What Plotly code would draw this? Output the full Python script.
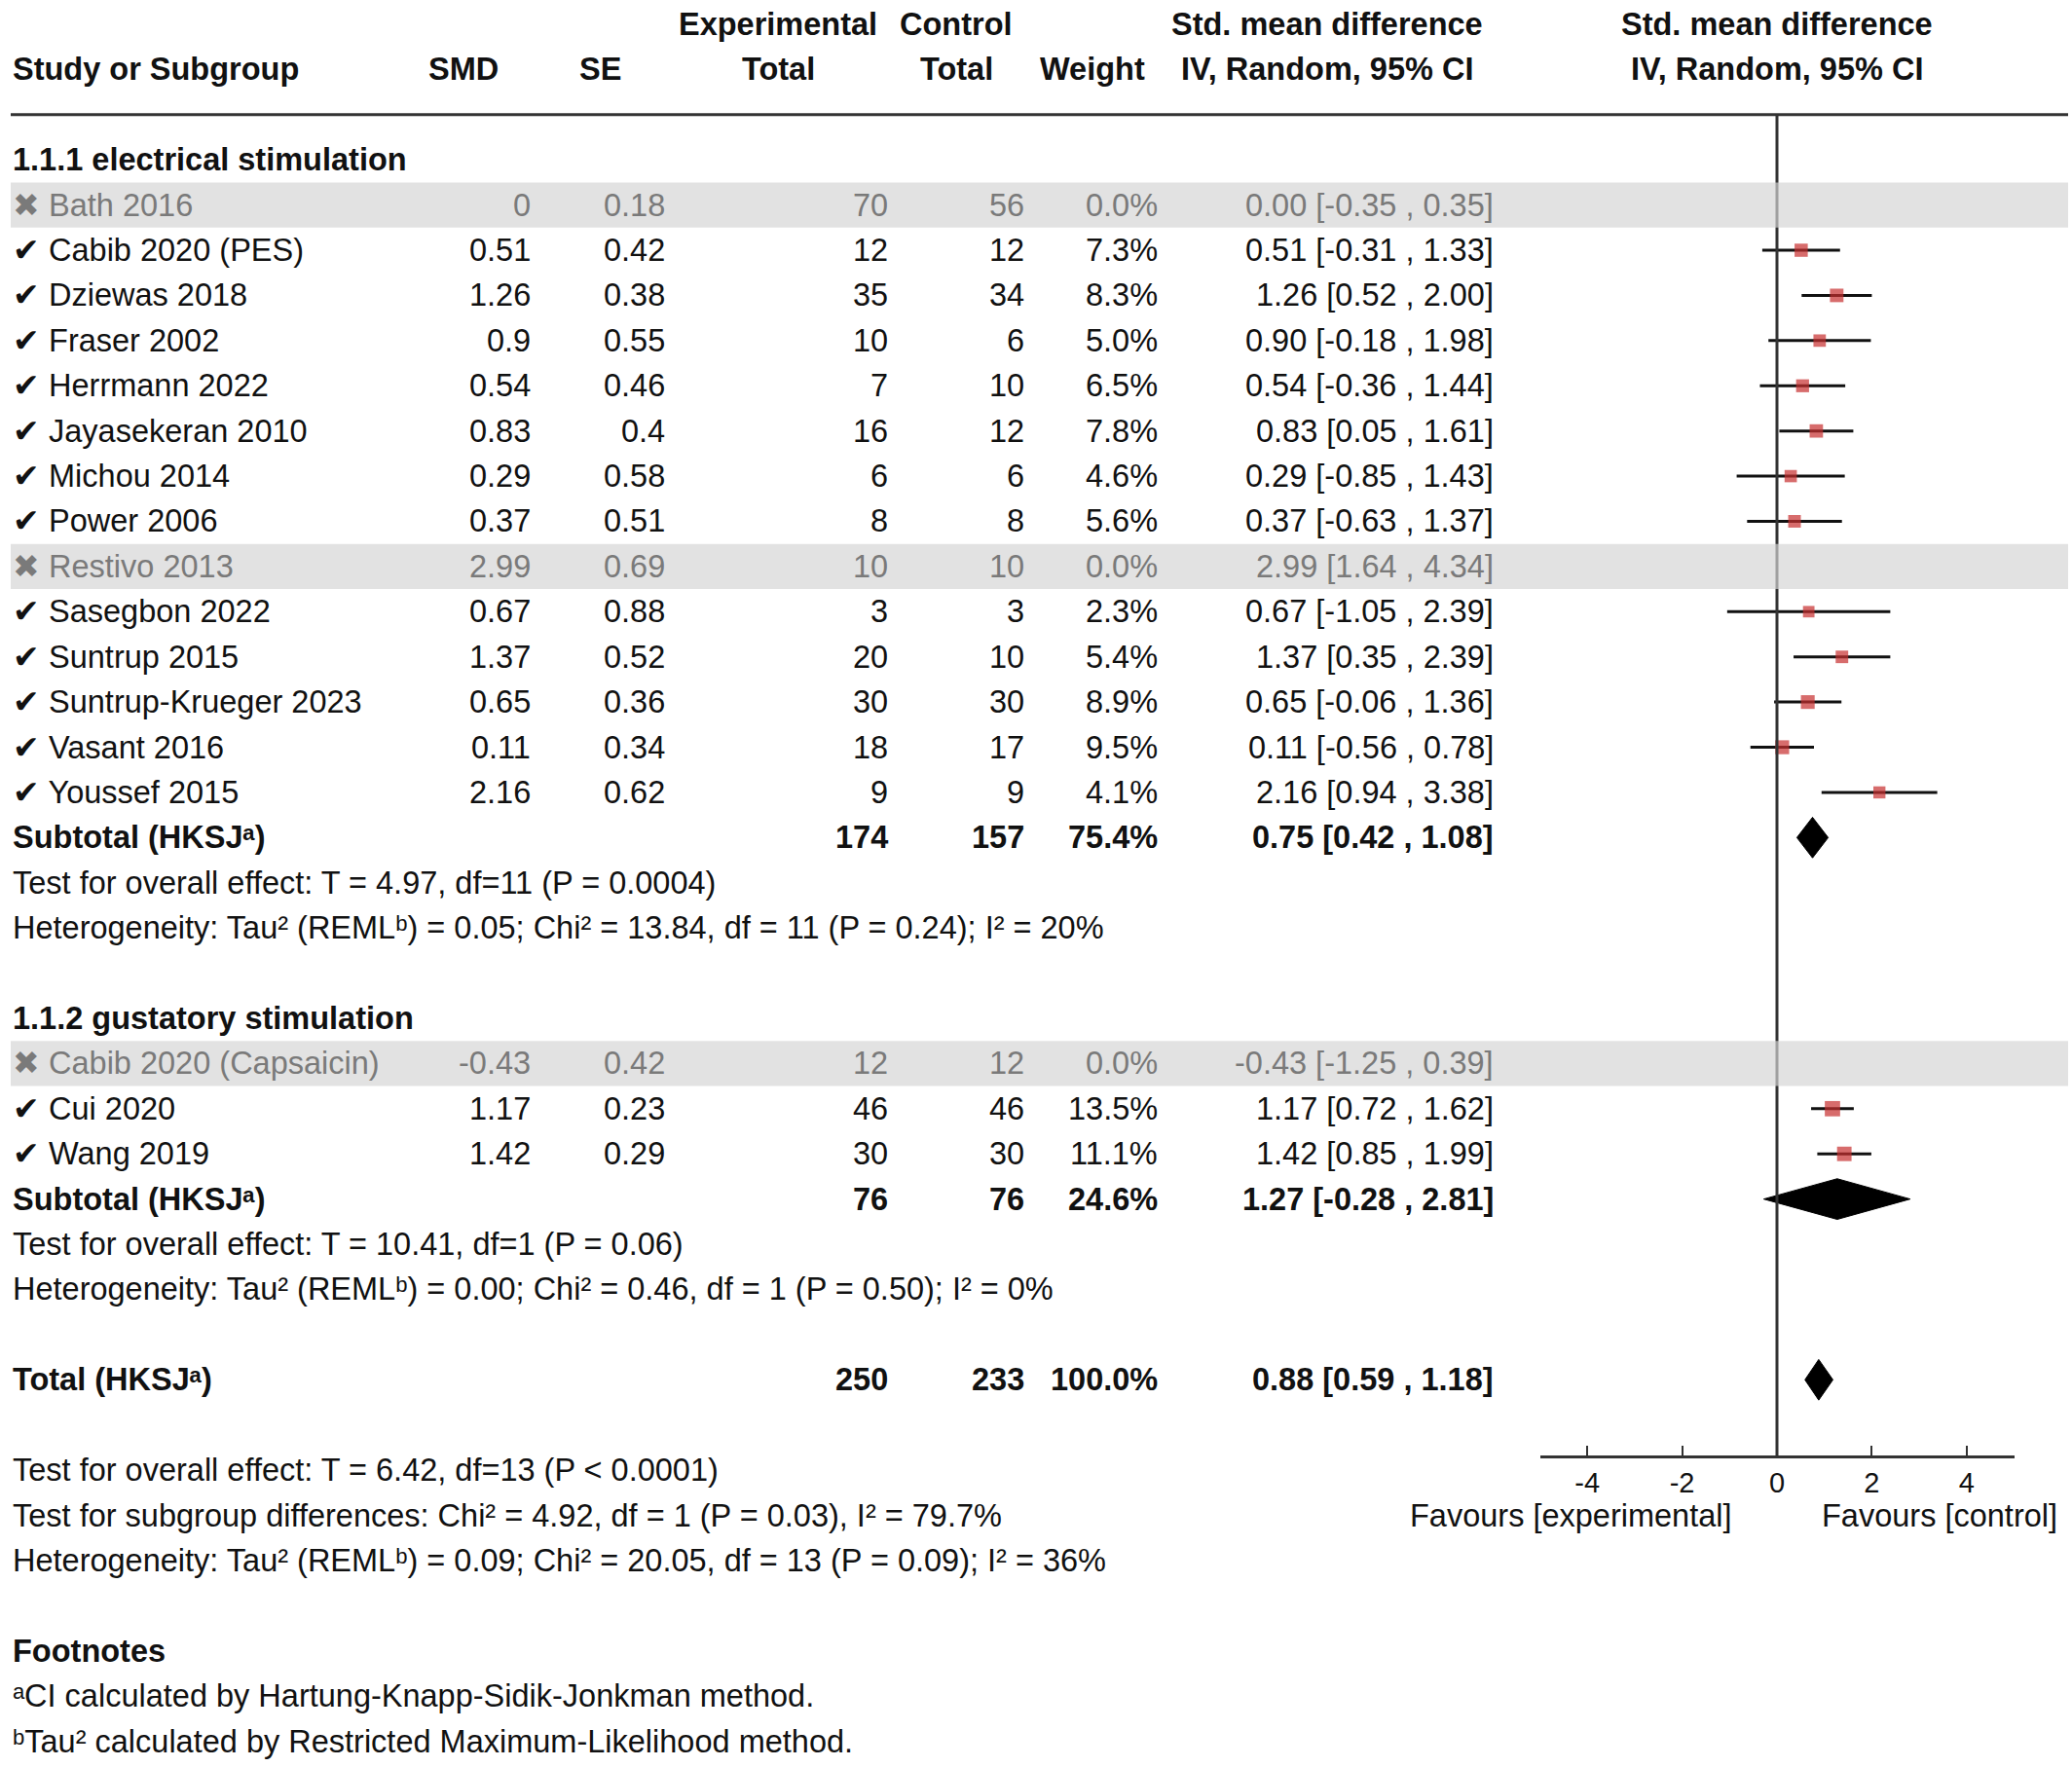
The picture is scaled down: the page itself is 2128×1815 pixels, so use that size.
import plotly.graph_objects as go

# ---------------- data ----------------
g1_title = "1.1.1 electrical stimulation"
g1_names = ["Bath 2016", "Cabib 2020 (PES)", "Dziewas 2018", "Fraser 2002", "Herrmann 2022",
            "Jayasekeran 2010", "Michou 2014", "Power 2006", "Restivo 2013", "Sasegbon 2022",
            "Suntrup 2015", "Suntrup-Krueger 2023", "Vasant 2016", "Youssef 2015"]
g1_smd = [0, 0.51, 1.26, 0.9, 0.54, 0.83, 0.29, 0.37, 2.99, 0.67, 1.37, 0.65, 0.11, 2.16]
g1_se = [0.18, 0.42, 0.38, 0.55, 0.46, 0.4, 0.58, 0.51, 0.69, 0.88, 0.52, 0.36, 0.34, 0.62]
g1_exp = [70, 12, 35, 10, 7, 16, 6, 8, 10, 3, 20, 30, 18, 9]
g1_ctl = [56, 12, 34, 6, 10, 12, 6, 8, 10, 3, 10, 30, 17, 9]
g1_weight = [0.0, 7.3, 8.3, 5.0, 6.5, 7.8, 4.6, 5.6, 0.0, 2.3, 5.4, 8.9, 9.5, 4.1]
g1_lo = [-0.35, -0.31, 0.52, -0.18, -0.36, 0.05, -0.85, -0.63, 1.64, -1.05, 0.35, -0.06, -0.56, 0.94]
g1_hi = [0.35, 1.33, 2.00, 1.98, 1.44, 1.61, 1.43, 1.37, 4.34, 2.39, 2.39, 1.36, 0.78, 3.38]
g1_excluded = [True, False, False, False, False, False, False, False, True, False, False, False, False, False]

g2_title = "1.1.2 gustatory stimulation"
g2_names = ["Cabib 2020 (Capsaicin)", "Cui 2020", "Wang 2019"]
g2_smd = [-0.43, 1.17, 1.42]
g2_se = [0.42, 0.23, 0.29]
g2_exp = [12, 46, 30]
g2_ctl = [12, 46, 30]
g2_weight = [0.0, 13.5, 11.1]
g2_lo = [-1.25, 0.72, 0.85]
g2_hi = [0.39, 1.62, 1.99]
g2_excluded = [True, False, False]

sub_exp = [174, 76]
sub_ctl = [157, 76]
sub_weight = [75.4, 24.6]
sub_est = [0.75, 1.27]
sub_lo = [0.42, -0.28]
sub_hi = [1.08, 2.81]
sub_test = ["Test for overall effect: T = 4.97, df=11 (P = 0.0004)",
            "Test for overall effect: T = 10.41, df=1 (P = 0.06)"]
sub_het = ["Heterogeneity: Tau² (REMLᵇ) = 0.05; Chi² = 13.84, df = 11 (P = 0.24); I² = 20%",
           "Heterogeneity: Tau² (REMLᵇ) = 0.00; Chi² = 0.46, df = 1 (P = 0.50); I² = 0%"]

tot_exp = 250
tot_ctl = 233
tot_weight = 100.0
tot_est = 0.88
tot_lo = 0.59
tot_hi = 1.18
overall_lines = ["Test for overall effect: T = 6.42, df=13 (P &lt; 0.0001)",
                 "Test for subgroup differences: Chi² = 4.92, df = 1 (P = 0.03), I² = 79.7%",
                 "Heterogeneity: Tau² (REMLᵇ) = 0.09; Chi² = 20.05, df = 13 (P = 0.09); I² = 36%"]
footnotes = ["ᵃCI calculated by Hartung-Knapp-Sidik-Jonkman method.",
             "ᵇTau² calculated by Restricted Maximum-Likelihood method."]

tick_vals = [-4, -2, 0, 2, 4]
tick_text = ["-4", "-2", "0", "2", "4"]
fav_left = "Favours [experimental]"
fav_right = "Favours [control]"

# ---------------- layout constants ----------------
W, H = 2128, 1815
FONT = "Liberation Sans, Arial, Helvetica, sans-serif"
FS = 32.5
BLACK = "#111111"
GREY = "#7a7a7a"
RED = "#c62d2d"
ROW_TOP = 164.2      # pixel y of row 0
ROW_H = 46.41        # pixel height of one row
y_top = -ROW_TOP / ROW_H
y_bot = (H - ROW_TOP) / ROW_H

X_LEFT = 11
X_RIGHT = 2124
COL_SMD = 547
COL_SE = 685
COL_EXP = 914
COL_CTL = 1054
COL_W = 1191
COL_CI = 1536
HDR_SMD = 476
HDR_SE = 616
HDR_EXP = 799
HDR_CTL = 982
HDR_W = 1122
HDR_CI = 1363
HDR_PLOT = 1825
AX_L, AX_R = 1581.5, 2068.5
AXIS_ROW = 28.7

annotations = []
shapes = []


def txt(x, r, s, anchor="left", bold=False, color=BLACK, size=FS):
    if bold:
        s = "<b>" + s + "</b>"
    annotations.append(dict(x=x, y=r, xref="x", yref="y", text=s, showarrow=False,
                            xanchor=anchor, yanchor="middle",
                            font=dict(size=size, color=color, family=FONT)))


# headers
txt(HDR_EXP, -3, "Experimental", "center", True)
txt(HDR_CTL, -3, "Control", "center", True)
txt(HDR_CI, -3, "Std. mean difference", "center", True)
txt(HDR_PLOT, -3, "Std. mean difference", "center", True)
txt(X_LEFT, -2, "Study or Subgroup", "left", True)
txt(HDR_SMD, -2, "SMD", "center", True)
txt(HDR_SE, -2, "SE", "center", True)
txt(HDR_EXP, -2, "Total", "center", True)
txt(HDR_CTL, -2, "Total", "center", True)
txt(HDR_W, -2, "Weight", "center", True)
txt(HDR_CI, -2, "IV, Random, 95% CI", "center", True)
txt(HDR_PLOT, -2, "IV, Random, 95% CI", "center", True)

shapes.append(dict(type="line", xref="x", yref="y", x0=X_LEFT, x1=X_RIGHT, y0=-1, y1=-1,
                   line=dict(color="#333333", width=3), layer="above"))
# null-effect line
shapes.append(dict(type="line", xref="x2", yref="y", x0=0, x1=0, y0=-1, y1=AXIS_ROW,
                   line=dict(color="#333333", width=3), layer="above"))

groups = [
    (g1_title, g1_names, g1_smd, g1_se, g1_exp, g1_ctl, g1_weight, g1_lo, g1_hi, g1_excluded),
    (g2_title, g2_names, g2_smd, g2_se, g2_exp, g2_ctl, g2_weight, g2_lo, g2_hi, g2_excluded),
]

ci_x, ci_y = [], []
sq_x, sq_y, sq_s = [], [], []
diamonds = []

r = 0
for gi, (title, names, smd, se, ne, nc, wt, lo, hi, excl) in enumerate(groups):
    txt(X_LEFT, r, title, "left", True)
    r += 1
    for i in range(len(names)):
        col = GREY if excl[i] else BLACK
        mark = "✖" if excl[i] else "✔"
        if excl[i]:
            shapes.append(dict(type="rect", xref="x", yref="y", x0=X_LEFT, x1=X_RIGHT,
                               y0=r - 0.5, y1=r + 0.5, fillcolor="rgba(212,212,212,0.68)",
                               line=dict(width=0), layer="above"))
        txt(X_LEFT, r, mark + " " + names[i], "left", color=col)
        txt(COL_SMD, r, f"{smd[i]:g}", "right", color=col)
        txt(COL_SE, r, f"{se[i]:g}", "right", color=col)
        txt(COL_EXP, r, str(ne[i]), "right", color=col)
        txt(COL_CTL, r, str(nc[i]), "right", color=col)
        txt(COL_W, r, f"{wt[i]:.1f}%", "right", color=col)
        txt(COL_CI, r, f"{smd[i]:.2f} [{lo[i]:.2f} , {hi[i]:.2f}]", "right", color=col)
        if not excl[i]:
            ci_x += [lo[i], hi[i], None]
            ci_y += [r, r, None]
            sq_x.append(smd[i])
            sq_y.append(r)
            sq_s.append(11 + 0.35 * wt[i])
        r += 1
    txt(X_LEFT, r, "Subtotal (HKSJᵃ)", "left", True)
    txt(COL_EXP, r, str(sub_exp[gi]), "right", True)
    txt(COL_CTL, r, str(sub_ctl[gi]), "right", True)
    txt(COL_W, r, f"{sub_weight[gi]:.1f}%", "right", True)
    txt(COL_CI, r, f"{sub_est[gi]:.2f} [{sub_lo[gi]:.2f} , {sub_hi[gi]:.2f}]", "right", True)
    diamonds.append((sub_est[gi], sub_lo[gi], sub_hi[gi], r))
    r += 1
    txt(X_LEFT, r, sub_test[gi])
    r += 1
    txt(X_LEFT, r, sub_het[gi])
    r += 2

# total
txt(X_LEFT, r, "Total (HKSJᵃ)", "left", True)
txt(COL_EXP, r, str(tot_exp), "right", True)
txt(COL_CTL, r, str(tot_ctl), "right", True)
txt(COL_W, r, f"{tot_weight:.1f}%", "right", True)
txt(COL_CI, r, f"{tot_est:.2f} [{tot_lo:.2f} , {tot_hi:.2f}]", "right", True)
diamonds.append((tot_est, tot_lo, tot_hi, r))
r += 2
for line in overall_lines:
    txt(X_LEFT, r, line)
    r += 1
fav_row = r - 2
r += 1
txt(X_LEFT, r, "Footnotes", "left", True)
r += 1
for fn in footnotes:
    txt(X_LEFT, r, fn)
    r += 1

txt(1613, fav_row, fav_left, "center")
txt(1992, fav_row, fav_right, "center")

fig = go.Figure()
fig.add_trace(go.Scatter(x=ci_x, y=ci_y, xaxis="x2", yaxis="y", mode="lines",
                         line=dict(color="#111111", width=3), hoverinfo="skip", showlegend=False))
fig.add_trace(go.Scatter(x=sq_x, y=sq_y, xaxis="x2", yaxis="y", mode="markers",
                         marker=dict(symbol="square", size=sq_s, color=RED, line=dict(width=0)),
                         showlegend=False))
DH = 0.45
for est, lo, hi, rr in diamonds:
    fig.add_trace(go.Scatter(x=[lo, est, hi, est, lo], y=[rr, rr - DH, rr, rr + DH, rr],
                             xaxis="x2", yaxis="y", mode="lines", fill="toself",
                             fillcolor="black", line=dict(color="black", width=1),
                             hoverinfo="skip", showlegend=False))

fig.update_layout(
    width=W, height=H,
    margin=dict(l=0, r=0, t=0, b=0),
    paper_bgcolor="white", plot_bgcolor="rgba(0,0,0,0)",
    showlegend=False,
    font=dict(family=FONT, size=FS, color=BLACK),
    xaxis=dict(domain=[0, 1], range=[0, W], visible=False, fixedrange=True),
    yaxis=dict(domain=[0, 1], range=[y_bot, y_top], visible=False, fixedrange=True),
    xaxis2=dict(domain=[AX_L / W, AX_R / W], range=[-5, 5], anchor="free",
                position=1 - (ROW_TOP + AXIS_ROW * ROW_H) / H,
                showline=True, linecolor="#333333", linewidth=3,
                ticks="inside", ticklen=10, tickwidth=2, tickcolor="#333333",
                tickvals=tick_vals, ticktext=tick_text, showgrid=False, zeroline=False,
                tickfont=dict(size=29, color=BLACK, family=FONT), fixedrange=True),
    annotations=annotations,
    shapes=shapes,
)

fig.write_html("out.html", config={"displayModeBar": False},
               post_script="document.body.style.margin='0px';document.body.style.overflow='hidden';")
